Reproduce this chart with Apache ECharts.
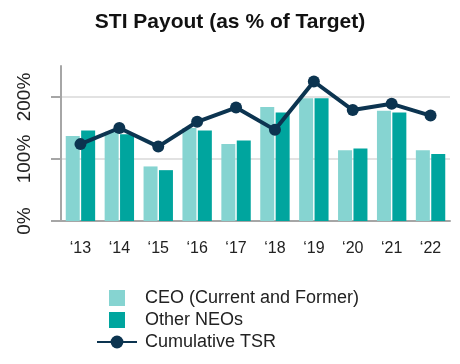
<!DOCTYPE html>
<html>
<head>
<meta charset="utf-8">
<script src="https://cdn.jsdelivr.net/npm/echarts@6/dist/echarts.min.js"></script>
<style>
html,body{margin:0;padding:0;background:#fff;}
#chart{width:460px;height:364px;}
</style>
</head>
<body>
<div id="chart"></div>
<script>
var categories = ['\u201813', '\u201814', '\u201815', '\u201816', '\u201817', '\u201818', '\u201819', '\u201820', '\u201821', '\u201822'];
var ceoValues = [137, 144, 88, 150, 124, 184, 198, 114, 178, 114];
var otherNeoValues = [146, 140, 82, 146, 130, 175, 198, 117, 175, 108];
var tsrValues = [124, 150, 120, 160, 183, 147, 225, 179, 189, 170];
var yTickValues = [0, 100, 200];

var FONT = 'Liberation Sans, Arial, sans-serif';
var chart = echarts.init(document.getElementById('chart'), null, {renderer: 'canvas'});
var square = 'path://M0,0L10,0L10,10L0,10Z';
chart.setOption({
  animation: false,
  backgroundColor: '#ffffff',
  title: {
    text: 'STI Payout (as % of Target)',
    left: 'center',
    top: 7,
    textStyle: {fontFamily: FONT, fontSize: 21, fontWeight: 'bold', color: '#111'}
  },
  legend: {
    orient: 'vertical',
    left: 96,
    top: 289,
    height: 75,
    padding: 0,
    itemWidth: 40,
    itemHeight: 16,
    itemGap: 4,
    symbolKeepAspect: true,
    textStyle: {fontFamily: FONT, fontSize: 18, color: '#222', padding: [0, 0, 0, 3]},
    data: [
      {name: 'CEO (Current and Former)', icon: square},
      {name: 'Other NEOs', icon: square},
      {name: 'Cumulative TSR'}
    ]
  },
  grid: {left: 61, right: 10, top: 66, bottom: 143, containLabel: false},
  xAxis: {
    type: 'category',
    data: categories,
    axisLine: {lineStyle: {color: '#a6a6a6', width: 2}},
    axisTick: {show: false},
    axisLabel: {fontFamily: FONT, fontSize: 16, color: '#222', margin: 20}
  },
  yAxis: {
    type: 'value',
    min: 0,
    max: 250,
    interval: 100,
    axisLine: {show: true, lineStyle: {color: '#a6a6a6', width: 2}},
    axisTick: {show: true, length: 10, customValues: yTickValues, lineStyle: {color: '#a6a6a6', width: 2}},
    axisLabel: {
      customValues: yTickValues,
      rotate: 90,
      margin: 27,
      fontFamily: FONT,
      fontSize: 19,
      color: '#222',
      formatter: function (v) { return v > 200 ? '' : v + '%'; }
    },
    splitLine: {
      show: true,
      lineStyle: {color: ['rgba(0,0,0,0)', '#e2e2e2', '#e2e2e2', 'rgba(0,0,0,0)'], width: 2}
    }
  },
  series: [
    {
      name: 'CEO (Current and Former)',
      type: 'bar',
      data: ceoValues,
      barWidth: 14,
      barGap: '10%',
      itemStyle: {color: '#86d4d1'}
    },
    {
      name: 'Other NEOs',
      type: 'bar',
      data: otherNeoValues,
      barWidth: 14,
      barGap: '10%',
      itemStyle: {color: '#00a59e'}
    },
    {
      name: 'Cumulative TSR',
      type: 'line',
      data: tsrValues,
      symbol: 'circle',
      symbolSize: 12,
      lineStyle: {color: '#0c3450', width: 4},
      itemStyle: {color: '#0c3450'},
      z: 5
    }
  ]
});
</script>
</body>
</html>
